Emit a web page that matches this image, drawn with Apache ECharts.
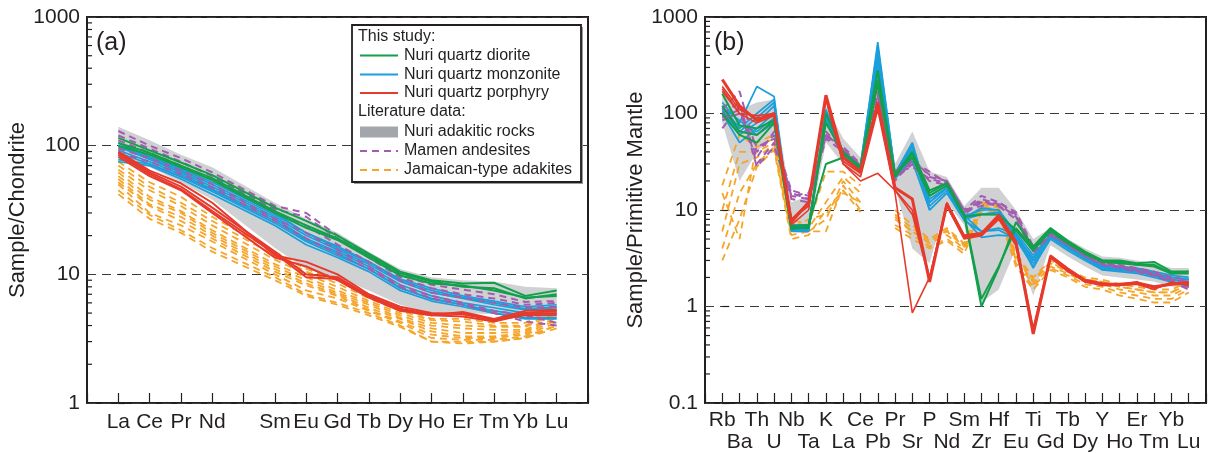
<!DOCTYPE html>
<html>
<head>
<meta charset="utf-8">
<script src="https://cdn.jsdelivr.net/npm/echarts@6/dist/echarts.min.js"></script>
<style>
  html, body { margin: 0; padding: 0; background: #fff; }
  #main { width: 1212px; height: 453px; }
</style>
</head>
<body>
<div id="main"></div>
<script>
// ---- panel (a): chondrite-normalised REE ----
const reeLabels = ['La', 'Ce', 'Pr', 'Nd', '', 'Sm', 'Eu', 'Gd', 'Tb', 'Dy', 'Ho', 'Er', 'Tm', 'Yb', 'Lu'];

const reeDiorite = [
  [115, 92, 74, 59, null, 33, 26, 20, 14.5, 10.5, 9.0, 8.5, 8.6, 6.8, 7.5],
  [105, 88, 70, 56, null, 31, 24, 19, 14, 10.2, 8.8, 8.0, 7.8, 6.5, 7.0],
  [100, 85, 68, 54, null, 30, 23, 18.5, 13.5, 9.8, 8.5, 8.2, 7.5, 6.6, 6.8]
];
const reeMonzonite = [
  [105, 82, 66, 52, null, 30, 21, 16.5, 12.5, 9.2, 7.8, 6.8, 6.2, 5.6, 5.8],
  [98, 78, 62, 48, null, 28, 20, 15.5, 12, 8.8, 7.2, 6.5, 5.8, 5.3, 5.5],
  [92, 75, 60, 46, null, 27, 19, 15, 11.5, 8.3, 6.8, 6.0, 5.5, 5.0, 5.2],
  [88, 72, 57, 44, null, 25, 18, 14, 11, 7.9, 6.4, 5.8, 5.2, 4.8, 4.9],
  [78, 72, 58, 45, null, 26, 18.5, 14.5, 11, 7.8, 6.5, 5.8, 5.0, 4.6, 4.6],
  [75, 70, 55, 42, null, 24, 17, 13.5, 10.5, 7.5, 6.2, 5.6, 5.0, 4.5, 4.5],
  [100, 80, 64, 50, null, 29, 21, 16, 12.5, 9.0, 7.5, 6.6, 6.0, 5.4, 5.6]
];
const reePorphyry = [
  [88, 62, 48, 33, null, 15, 10, 9.5, 6.8, 5.4, 4.9, 5.0, 4.4, 5.0, 5.2],
  [85, 60, 46, 31, null, 14.5, 9.5, 9.2, 6.7, 5.3, 4.8, 5.1, 4.5, 5.2, 5.3],
  [90, 64, 51, 36, null, 14, 12.5, 10, 7.0, 5.6, 5.0, 4.9, 4.4, 4.8, 4.8],
  [82, 58, 45, 30, null, 13.5, 11.5, 9.0, 6.6, 5.2, 4.8, 4.7, 4.3, 4.9, 5.0]
];
const reeMamen = [
  [130, 100, 80, 62, null, 34, 30, 20, 14, 10, 8.3, 7.6, 7.0, 6.1, 6.2],
  [120, 95, 75, 58, null, 32, 28, 19, 13.5, 9.5, 7.8, 7.0, 6.5, 5.8, 6.0],
  [110, 88, 70, 55, null, 30, 24, 17, 12.5, 8.9, 7.2, 6.6, 6.0, 5.5, 5.6],
  [95, 80, 64, 50, null, 27, 21, 15.5, 11.5, 8.2, 6.8, 6.0, 5.2, 4.8, 4.2],
  [88, 75, 60, 47, null, 26, 19, 14.5, 11, 8.0, 6.5, 5.8, 5.0, 4.3, 4.0]
];
const reeJamaican = [
  [75, 52, 40, 28, null, 15, 11, 9, 7, 5.5, 4.5, 4.5, 4.2, 4.2, 5.5],
  [70, 48, 36, 26, null, 14, 10.5, 8.5, 6.5, 5.2, 4.4, 4.3, 4.0, 4.0, 5.2],
  [65, 45, 34, 24, null, 13, 10, 8, 6.2, 5.0, 4.2, 4.0, 3.9, 3.9, 5.0],
  [62, 40, 31, 22, null, 12, 9.5, 7.5, 6, 4.8, 4.0, 3.8, 3.7, 3.7, 4.8],
  [58, 38, 30, 21, null, 11.5, 9, 7.2, 5.8, 4.6, 3.8, 3.5, 3.5, 3.6, 4.6],
  [55, 35, 28, 20, null, 11, 8.5, 7, 5.5, 4.5, 3.6, 3.3, 3.3, 3.5, 4.4],
  [52, 34, 26, 19, null, 10.5, 8.2, 6.8, 5.3, 4.3, 3.4, 3.2, 3.2, 3.4, 4.2],
  [50, 30, 24, 18, null, 10, 7.5, 6.5, 5.2, 4.2, 3.2, 3.1, 3.1, 3.3, 4.0],
  [45, 29, 22, 16, null, 9.5, 7.0, 6.0, 5.0, 4.0, 3.0, 3.0, 3.0, 3.2, 4.0],
  [42, 27, 21, 15, null, 9, 6.8, 5.8, 4.8, 3.9, 3.0, 2.9, 3.0, 3.2, 3.8]
];
const reeBandUpper = [140, 110, 85, 68, null, 36, 27, 21, 15, 11, 9.5, 9, 8.8, 8, 7.8];
const reeBandLower = [75, 68, 52, 38, null, 16, 11, 9.5, 7.5, 5.8, 4.9, 5.0, 4.9, 4.7, 4.6];

// ---- panel (b): primitive-mantle-normalised spider ----
const spiderLabels = ['Rb', 'Ba', 'Th', 'U', 'Nb', 'Ta', 'K', 'La', 'Ce', 'Pb', 'Pr', 'Sr', 'P', 'Nd',
  'Sm', 'Zr', 'Hf', 'Eu', 'Ti', 'Gd', 'Tb', 'Dy', 'Y', 'Ho', 'Er', 'Tm', 'Yb', 'Lu'];

const spDiorite = [
  [160, 75, 70, 85, 6.5, 6.5, 100, 40, 28, 280, 23, 40, 16, 19, 9, 1.0, 2.5, 7.5, 4.2, 6.5, 4.8, 3.7, 3.0, 3.0, 2.8, 2.9, 2.3, 2.3],
  [120, 65, 60, 85, 6.3, 6.8, 80, 38, 28, 220, 22, 38, 15, 19, 9, 1.2, 2.6, 6.5, 4.0, 6.3, 4.6, 3.6, 3.0, 2.9, 2.7, 2.7, 2.2, 2.3],
  [100, 60, 50, 80, 6.8, 7.0, 30, 35, 27, 200, 24, 35, 14, 18, 8.5, 9, 9, 6.2, 3.8, 6.0, 4.5, 3.5, 2.9, 2.8, 2.7, 2.6, 2.2, 2.2]
];
const spMonzonite = [
  [130, 80, 190, 150, 6.5, 6.5, 110, 40, 28, 550, 24, 50, 12, 17, 8.5, 10, 10, 5.5, 3.0, 5.5, 4.2, 3.3, 2.6, 2.5, 2.4, 2.2, 2.0, 1.9],
  [120, 70, 100, 140, 6.2, 6.2, 100, 38, 27, 400, 23, 45, 11, 16, 8, 9, 9.5, 5.2, 2.8, 5.2, 4.0, 3.1, 2.5, 2.4, 2.3, 2.1, 1.9, 1.8],
  [110, 60, 80, 120, 6.8, 6.8, 95, 36, 26, 350, 22, 40, 10, 15, 7.8, 6, 6.2, 5.0, 2.6, 5.0, 3.8, 3.0, 2.4, 2.3, 2.2, 2.0, 1.8, 1.7],
  [100, 50, 70, 100, 6.0, 6.0, 90, 35, 25, 300, 21, 35, 13, 17, 8.2, 5.2, 5.5, 5.3, 3.2, 5.4, 4.1, 3.2, 2.5, 2.4, 2.3, 2.1, 1.9, 1.8],
  [95, 75, 65, 90, 7.0, 7.0, 85, 37, 27, 450, 22, 32, 10, 15, 8.3, 10.5, 10, 5.8, 3.4, 5.6, 4.3, 3.4, 2.7, 2.6, 2.5, 2.3, 2.1, 2.0],
  [105, 65, 90, 130, 6.3, 6.3, 100, 38, 28, 250, 23, 42, 14, 18, 8.8, 6, 6.5, 5.6, 3.0, 5.6, 4.3, 3.3, 2.6, 2.5, 2.4, 2.2, 2.0, 1.9],
  [115, 85, 60, 80, 6.6, 6.6, 105, 39, 29, 500, 24, 48, 12, 17, 9, 9, 9, 5.5, 2.5, 5.3, 4.0, 3.2, 2.4, 2.4, 2.3, 2.1, 1.8, 1.6]
];
const spPorphyry = [
  [225, 120, 85, 100, 7.5, 12, 155, 35, 25, 130, 17, 13, 1.8, 11.5, 5.3, 5.6, 8.5, 4.6, 0.52, 3.3, 2.4, 1.85, 1.7, 1.7, 1.75, 1.6, 1.7, 1.75],
  [190, 110, 90, 95, 8, 11, 150, 32, 24, 120, 16, 10, 2.0, 11, 5.0, 5.4, 8, 4.3, 0.55, 3.2, 2.3, 1.8, 1.65, 1.65, 1.7, 1.5, 1.8, 1.65],
  [170, 100, 80, 95, 7, 10, 140, 30, 22, 110, 15, 0.86, 2.0, 12, 5.5, 5.8, 9, 4.8, 0.6, 3.4, 2.5, 1.9, 1.75, 1.7, 1.8, 1.55, 1.7, 1.8],
  [180, 100, 95, 100, 8, 12, 140, 30, 20, 24, 16, 9, 1.9, 11, 5.2, 5.5, 8.2, 4.5, 0.54, 3.3, 2.4, 1.8, 1.7, 1.7, 1.7, 1.6, 1.7, 1.7]
];
const spMamen = [
  [110, 170, 40, 60, 14, 15, 60, 45, 30, 170, 25, 35, 22, 20, 10, 14, 12, 9, 4.0, 6.0, 4.6, 3.5, 2.9, 2.7, 2.5, 2.3, 2.0, 1.9],
  [100, 130, 30, 50, 15, 13, 65, 42, 29, 150, 22, 32, 25, 19, 9.5, 13, 11.5, 8.5, 3.8, 5.7, 4.4, 3.4, 2.8, 2.6, 2.4, 2.2, 1.9, 1.8],
  [90, 110, 35, 65, 13, 12, 55, 40, 28, 140, 21, 30, 20, 18, 9, 12, 11, 8, 3.6, 5.5, 4.3, 3.3, 2.7, 2.5, 2.3, 2.1, 1.8, 1.6],
  [70, 120, 28, 45, 14, 13, 58, 43, 29, 160, 20, 33, 23, 20, 10, 11, 12, 9.5, 4.2, 5.8, 4.5, 3.4, 2.8, 2.6, 2.4, 2.2, 1.9, 1.7],
  [85, 100, 45, 55, 16, 14, 62, 41, 28, 130, 24, 28, 21, 19, 9.5, 12.5, 11, 8.8, 3.7, 5.5, 4.4, 3.3, 2.7, 2.5, 2.3, 2.1, 1.8, 1.5]
];
const spJamaican = [
  [18, 60, 45, 55, 8, 7, 25, 25, 18, null, 10, 7, 5, 6.5, 4.5, 12, 11, 3.5, 2.0, 3.0, 2.4, 2.0, 1.9, 1.7, 1.6, 1.5, 1.5, 1.8],
  [10, 40, 40, 50, 7, 6.5, 12, 22, 15, null, 9, 6.5, 4.8, 6, 4.2, 11.5, 10.5, 3.2, 1.8, 2.8, 2.3, 1.9, 1.8, 1.6, 1.5, 1.4, 1.4, 1.7],
  [6, 30, 35, 48, 6, 6, 8, 20, 12, null, 8, 6, 4.5, 5.5, 4.0, 11, 10, 3.0, 1.7, 2.6, 2.2, 1.8, 1.7, 1.5, 1.4, 1.3, 1.3, 1.6],
  [4, 15, 30, 45, 5.5, 6, 6, 18, 10, null, 7, 5.5, 4.2, 5, 3.8, 10, 9.5, 2.8, 1.6, 2.5, 2.1, 1.7, 1.6, 1.4, 1.3, 1.2, 1.2, 1.5],
  [3, 8, 28, 42, 5, 5.5, 10, 16, 9.5, null, 6.5, 5, 4, 4.8, 3.5, 9.5, 9, 2.6, 1.5, 2.4, 2.0, 1.6, 1.5, 1.3, 1.2, 1.1, 1.1, 1.4],
  [15, 5, 50, 60, 6.5, 8, 9, 15, 12, null, 8.5, 6, 4.6, 6.2, 4.3, 12, 11, 3.3, 1.9, 2.9, 2.3, 1.9, 1.8, 1.6, 1.5, 1.4, 1.4, 1.8]
];
const spBandUpper = [200, 110, 130, 140, 12, 14, 120, 55, 35, 450, 30, 65, 25, 22, 11, 17, 17, 10, 5, 6.5, 5, 4, 3.3, 3.2, 3.0, 2.8, 2.5, 2.5];
const spBandLower = [80, 20, 40, 60, 6, 6, 50, 30, 22, 110, 17, 4, 2.8, 12, 7, 1.1, 1.5, 4, 1.3, 4.3, 3.3, 2.6, 2.1, 2.0, 1.9, 1.8, 1.6, 1.6];

const GREEN = '#12a04b', BLUE = '#1a9fdc', RED = '#e63a2c', PURPLE = '#a35db0', ORANGE = '#f5a52a', GRAY = '#cfd1d3';
const INK = '#231f20';
const FONT = 'Liberation Sans, Arial, sans-serif';

const chart = echarts.init(document.getElementById('main'));

function lineGroup(rows, name, color, width, dashed, idx, z) {
  return rows.map(r => ({
    type: 'line', name, xAxisIndex: idx, yAxisIndex: idx,
    data: r.map((v, i) => [i, v == null ? '-' : v]),
    connectNulls: idx === 0,
    symbol: 'none', silent: true, z,
    lineStyle: { color, width, type: dashed ? [7, 5] : 'solid', cap: 'butt' }
  }));
}

function band(upper, lower, idx) {
  return {
    type: 'custom', xAxisIndex: idx, yAxisIndex: idx, silent: true, z: 1,
    data: [[0, upper[0]]],
    renderItem: (params, api) => {
      const pts = [];
      upper.forEach((v, i) => { if (v != null) pts.push(api.coord([i, v])); });
      for (let i = lower.length - 1; i >= 0; i--) {
        if (lower[i] != null) pts.push(api.coord([i, lower[i]]));
      }
      return { type: 'polygon', shape: { points: pts }, style: { fill: GRAY } };
    }
  };
}

function minorTicks(lo, hi, idx) {
  const vals = [];
  for (let k = lo; k < hi; k++) for (let m = 2; m <= 9; m++) vals.push([-1, m * Math.pow(10, k)]);
  return {
    type: 'custom', xAxisIndex: idx, yAxisIndex: idx, silent: true, z: 10,
    data: vals,
    renderItem: (params, api) => {
      const p = api.coord([api.value(0), api.value(1)]);
      return { type: 'line', shape: { x1: p[0], y1: p[1], x2: p[0] + 5, y2: p[1] },
        style: { stroke: INK, lineWidth: 1.2 } };
    }
  };
}

const grids = [
  { left: 87, top: 17, width: 501, height: 386 },
  { left: 705, top: 17, width: 501, height: 386 }
].map(g => Object.assign(g, { show: true, borderColor: INK, borderWidth: 2, backgroundColor: 'transparent' }));

function xAxis(idx, labels, max, twoRows) {
  return {
    type: 'value', gridIndex: idx, min: -1, max, interval: 1,
    axisLine: { show: false },
    axisTick: { inside: true, length: 10, lineStyle: { color: INK, width: 1.2 } },
    splitLine: { show: false },
    axisLabel: {
      margin: twoRows ? 6 : 8, color: INK, fontSize: 21, fontFamily: FONT, lineHeight: 22,
      showMinLabel: true, showMaxLabel: true, hideOverlap: false,
      formatter: v => {
        const s = labels[v];
        if (!s) return '';
        return twoRows && v % 2 === 1 ? '\n' + s : s;
      }
    }
  };
}

function yAxis(idx, min, name, gap) {
  return {
    type: 'log', logBase: 10, gridIndex: idx, min, max: 1000,
    name, nameLocation: 'middle', nameGap: gap,
    nameTextStyle: { color: INK, fontSize: 22, fontFamily: FONT },
    axisLine: { show: false },
    axisTick: { inside: true, length: 7, lineStyle: { color: INK, width: 1.2 } },
    axisLabel: { color: INK, fontSize: 21, fontFamily: FONT, margin: 7, formatter: v => String(+v.toPrecision(3)) },
    splitLine: { show: true, lineStyle: { color: '#3a3a3a', width: 1.2, type: [9, 6] } }
  };
}

const legendRows = [
  { kind: 'head', text: 'This study:', y: 37 },
  { kind: 'line', text: 'Nuri quartz diorite', y: 55.5, color: GREEN },
  { kind: 'line', text: 'Nuri quartz monzonite', y: 74.5, color: BLUE },
  { kind: 'line', text: 'Nuri quartz porphyry', y: 93, color: RED },
  { kind: 'head', text: 'Literature data:', y: 112 },
  { kind: 'box', text: 'Nuri adakitic rocks', y: 132, color: '#a3a6aa' },
  { kind: 'dash', text: 'Mamen andesites', y: 151, color: PURPLE },
  { kind: 'dash', text: 'Jamaican-type adakites', y: 170, color: ORANGE }
];

const graphic = [
  { type: 'text', left: 96, top: 31, style: { text: '(a)', fontSize: 25, fontFamily: FONT, fill: INK } },
  { type: 'text', left: 714, top: 31, style: { text: '(b)', fontSize: 25, fontFamily: FONT, fill: INK } },
  { type: 'rect', shape: { x: 354, y: 27, width: 229, height: 157 }, style: { fill: '#9a9a9a' }, z: 49 },
  { type: 'rect', shape: { x: 352, y: 25, width: 229, height: 157 }, style: { fill: '#fff', stroke: INK, lineWidth: 1.8 }, z: 50 }
];
legendRows.forEach(r => {
  if (r.kind === 'head') {
    graphic.push({ type: 'text', x: 358, y: r.y, z: 51,
      style: { text: r.text, fontSize: 16, fontFamily: FONT, fill: INK, verticalAlign: 'middle' } });
    return;
  }
  if (r.kind === 'box') {
    graphic.push({ type: 'rect', z: 51, shape: { x: 360, y: r.y - 5.5, width: 38, height: 11 }, style: { fill: r.color } });
  } else {
    graphic.push({ type: 'line', z: 51, shape: { x1: 360, y1: r.y, x2: 398, y2: r.y },
      style: { stroke: r.color, lineWidth: 2, lineDash: r.kind === 'dash' ? [7, 5] : null } });
  }
  graphic.push({ type: 'text', x: 404, y: r.y, z: 51,
    style: { text: r.text, fontSize: 16, fontFamily: FONT, fill: INK, verticalAlign: 'middle' } });
});

const series = [
  band(reeBandUpper, reeBandLower, 0),
  ...lineGroup(reeJamaican, 'Jamaican-type adakites', ORANGE, 1.8, true, 0, 2),
  ...lineGroup(reeMonzonite, 'Nuri quartz monzonite', BLUE, 1.7, false, 0, 3),
  ...lineGroup(reeMamen, 'Mamen andesites', PURPLE, 2, true, 0, 4),
  ...lineGroup(reeDiorite, 'Nuri quartz diorite', GREEN, 2, false, 0, 5),
  ...lineGroup(reePorphyry, 'Nuri quartz porphyry', RED, 2, false, 0, 6),
  minorTicks(0, 3, 0),

  band(spBandUpper, spBandLower, 1),
  ...lineGroup(spJamaican, 'Jamaican-type adakites', ORANGE, 1.8, true, 1, 2),
  ...lineGroup(spMonzonite, 'Nuri quartz monzonite', BLUE, 1.7, false, 1, 3),
  ...lineGroup(spMamen, 'Mamen andesites', PURPLE, 2, true, 1, 4),
  ...lineGroup(spDiorite, 'Nuri quartz diorite', GREEN, 2, false, 1, 5),
  ...lineGroup(spPorphyry.slice(0, 1), 'Nuri quartz porphyry', RED, 3, false, 1, 6),
  ...lineGroup(spPorphyry.slice(1), 'Nuri quartz porphyry', RED, 1.6, false, 1, 6),
  minorTicks(-1, 3, 1)
];

chart.setOption({
  animation: false,
  backgroundColor: '#fff',
  textStyle: { fontFamily: FONT },
  grid: grids,
  xAxis: [xAxis(0, reeLabels, 15, false), xAxis(1, spiderLabels, 28, true)],
  yAxis: [yAxis(0, 1, 'Sample/Chondrite', 55), yAxis(1, 0.1, 'Sample/Primitive Mantle', 56)],
  graphic,
  series
});
</script>
</body>
</html>
